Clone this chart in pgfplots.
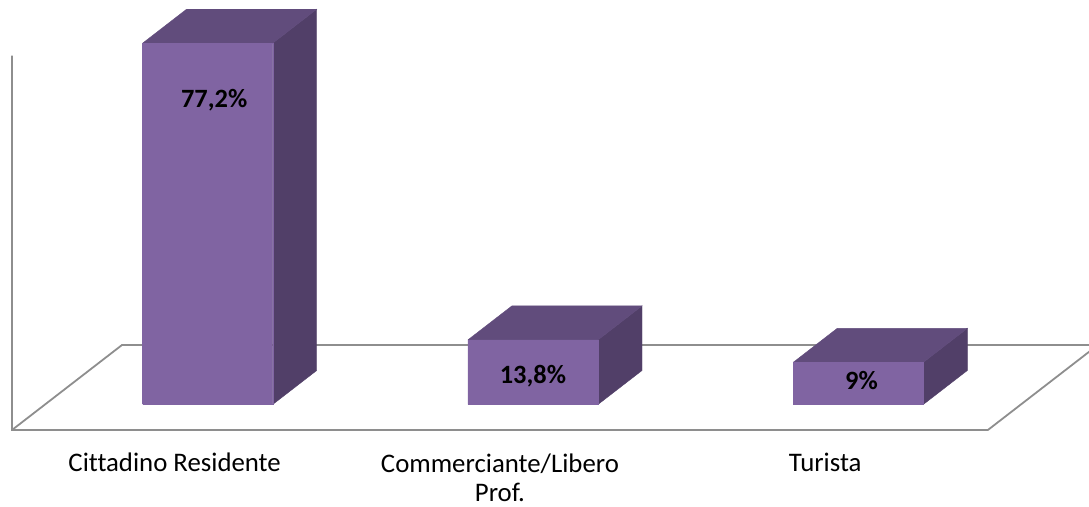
\documentclass[border=0pt]{standalone}
\usepackage{fontspec}
\setmainfont{Carlito}[Ligatures=NoCommon]
\usepackage{pgfplots}
\pgfplotsset{compat=1.18}
\definecolor{frontc}{HTML}{8064A2}
\definecolor{topc}{HTML}{614C7C}
\definecolor{sidec}{HTML}{513F68}
\definecolor{linec}{HTML}{8E8E8E}
% #1 = left x, #2 = right x, #3 = value
\newcommand{\cuboid}[3]{%
  \addplot3[fill=sidec, draw=sidec, line width=0.2pt] coordinates {(#2,0.3,0) (#2,0.7,0) (#2,0.7,#3) (#2,0.3,#3) (#2,0.3,0)};
  \addplot3[fill=topc, draw=topc, line width=0.2pt] coordinates {(#1,0.3,#3) (#2,0.3,#3) (#2,0.7,#3) (#1,0.7,#3) (#1,0.3,#3)};
  \addplot3[fill=frontc, draw=frontc, line width=0.2pt] coordinates {(#1,0.3,0) (#2,0.3,0) (#2,0.3,#3) (#1,0.3,#3) (#1,0.3,0)};
}
\begin{document}
\begin{tikzpicture}
\begin{axis}[
  x={(162.65pt,0pt)}, y={(55pt,42.5pt)}, z={(0pt,2.34pt)},
  xmin=-0.5, xmax=2.5, ymin=0, ymax=1, zmin=0, zmax=80,
  hide axis, clip=false,
]
\coordinate (O) at (axis cs:-0.5,0,0);
% floor and wall
\addplot3[color=linec, line width=0.9pt, mark=none] coordinates {(-0.5,0,80) (-0.5,0,0) (2.5,0,0) (2.5,1,0) (-0.5,1,0) (-0.5,0,0)};
% bars
\cuboid{-0.2}{0.2}{77.2}
\cuboid{0.8}{1.2}{13.8}
\cuboid{1.8}{2.2}{9}
% value labels
\node[font=\fontsize{13.2}{15.6}\selectfont\bfseries] at (axis cs:0.02,0.3,65.1) {77,2\%};
\node[font=\fontsize{13.2}{15.6}\selectfont\bfseries] at (axis cs:1.0,0.3,6.1) {13,8\%};
\node[font=\fontsize{13.2}{15.6}\selectfont\bfseries] at (axis cs:2.01,0.3,5.2) {9\%};
% category labels
\node[font=\fontsize{13.4}{14.5}\selectfont, anchor=base, align=center] at ([yshift=-21pt]axis cs:0,0,0) {Cittadino Residente};
\node[font=\fontsize{13.4}{14.5}\selectfont, anchor=north, align=center] at ([yshift=-8.5pt]axis cs:1,0,0) {Commerciante/Libero\\Prof.};
\node[font=\fontsize{13.4}{14.5}\selectfont, anchor=base, align=center] at ([yshift=-21pt]axis cs:2,0,0) {Turista};
\end{axis}
\pgfresetboundingbox
\useasboundingbox ([shift={(-6pt,-38.5pt)}]O) rectangle ([shift={(538.5pt,215pt)}]O);
\end{tikzpicture}
\end{document}
